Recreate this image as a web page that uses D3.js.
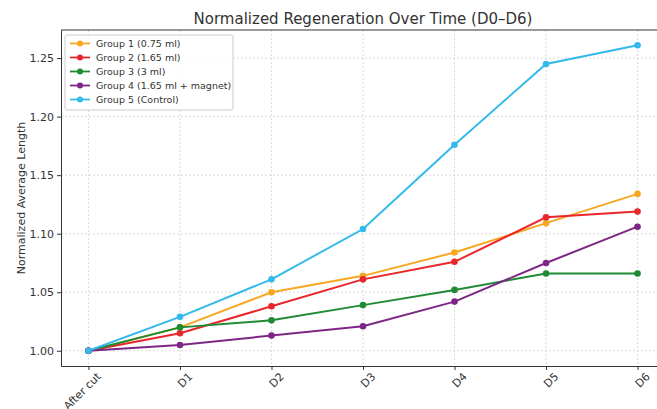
<!DOCTYPE html>
<html>
<head>
<meta charset="utf-8">
<script src="https://cdn.jsdelivr.net/npm/d3@7"></script>
<style>
  body { margin: 0; background: #fff; }
  text { font-family: "DejaVu Sans", sans-serif; fill: #333; }
  .grid line { stroke: #ccc; stroke-dasharray: 2,2; stroke-width: 0.7; }
</style>
</head>
<body>
<svg id="chart" width="657" height="409"></svg>
<script>
const days = ["After cut", "D1", "D2", "D3", "D4", "D5", "D6"];
const yTicks = [1.00, 1.05, 1.10, 1.15, 1.20, 1.25];

const group1 = [1.000, 1.020, 1.050, 1.064, 1.084, 1.109, 1.134];
const group2 = [1.000, 1.015, 1.038, 1.061, 1.076, 1.114, 1.119];
const group3 = [1.000, 1.020, 1.026, 1.039, 1.052, 1.066, 1.066];
const group4 = [1.000, 1.005, 1.013, 1.021, 1.042, 1.075, 1.106];
const group5 = [1.000, 1.029, 1.061, 1.104, 1.176, 1.245, 1.261];

const seriesNames = ["Group 1 (0.75 ml)", "Group 2 (1.65 ml)", "Group 3 (3 ml)",
                     "Group 4 (1.65 ml + magnet)", "Group 5 (Control)"];
const seriesColors = ["#f7a823", "#e8262b", "#1f8a33", "#7d2685", "#33b9ea"];

var series = [group1, group2, group3, group4, group5];

var svg = d3.select('#chart');
// plot box (right edge runs past the window, like the reference crop)
var pLeft = 61, pRight = 665, pTop = 30, pBottom = 366;

// matplotlib style margins around the data
var x = d3.scaleLinear().domain([-0.3, 6.3]).range([pLeft, pRight]);
var y = d3.scaleLinear().domain([0.987, 1.274]).range([pBottom, pTop]);

// gridlines
svg.append('g').attr('class', 'grid')
  .selectAll('line').data(days).enter().append('line')
  .attr('x1', (d, i) => x(i)).attr('x2', (d, i) => x(i))
  .attr('y1', pTop).attr('y2', pBottom);
svg.append('g').attr('class', 'grid')
  .selectAll('line').data(yTicks).enter().append('line')
  .attr('x1', pLeft).attr('x2', pRight)
  .attr('y1', d => y(d)).attr('y2', d => y(d));

// axes
var xAxis = svg.append('g')
  .attr('transform', `translate(0,${pBottom})`)
  .call(d3.axisBottom(x).tickValues(d3.range(days.length))
    .tickFormat(i => days[i]).tickSize(4).tickSizeOuter(0));
xAxis.selectAll('text')
  .attr('font-size', 11).attr('text-anchor', 'end')
  .attr('x', 1).attr('y', 13).attr('dy', '0.35em')
  .attr('transform', 'rotate(-45)')
  .style('font-family', '"DejaVu Sans", sans-serif').attr('fill', '#333');

var yAxis = svg.append('g')
  .attr('transform', `translate(${pLeft},0)`)
  .call(d3.axisLeft(y).tickValues(yTicks).tickFormat(d3.format('.2f'))
    .tickSize(4).tickSizeOuter(0));
yAxis.selectAll('text').attr('font-size', 11)
  .style('font-family', '"DejaVu Sans", sans-serif').attr('fill', '#333');

[xAxis, yAxis].forEach(function(a){
  a.select('.domain').attr('stroke', '#333').attr('stroke-width', 1);
  a.selectAll('.tick line').attr('stroke', '#333');
});
// spine box
svg.append('line').attr('x1', pLeft).attr('x2', pRight)
  .attr('y1', pTop).attr('y2', pTop).attr('stroke', '#333');

// lines and markers
var line = d3.line().x((d, i) => x(i)).y(d => y(d));
series.forEach(function(vals, s){
  svg.append('path').datum(vals)
    .attr('d', line).attr('fill', 'none')
    .attr('stroke', seriesColors[s]).attr('stroke-width', 2);
  svg.append('g').selectAll('circle').data(vals).enter().append('circle')
    .attr('cx', (d, i) => x(i)).attr('cy', d => y(d))
    .attr('r', 3.3).attr('fill', seriesColors[s]);
});

// labels
svg.append('text').attr('x', 363).attr('y', 24)
  .attr('text-anchor', 'middle').attr('font-size', 15)
  .text('Normalized Regeneration Over Time (D0\u2013D6)');
svg.append('text')
  .attr('transform', `translate(25,${(pTop + pBottom) / 2}) rotate(-90)`)
  .attr('text-anchor', 'middle').attr('font-size', 11)
  .text('Normalized Average Length');

// legend
var lg = svg.append('g').attr('transform', 'translate(65,35)');
lg.append('rect').attr('width', 168).attr('height', 75).attr('rx', 2)
  .attr('fill', 'rgba(255,255,255,0.85)').attr('stroke', '#ccc');
seriesNames.forEach(function(name, s){
  var yy = 8.5 + s * 14;
  lg.append('line').attr('x1', 5).attr('x2', 25).attr('y1', yy).attr('y2', yy)
    .attr('stroke', seriesColors[s]).attr('stroke-width', 1.8);
  lg.append('circle').attr('cx', 15).attr('cy', yy).attr('r', 3)
    .attr('fill', seriesColors[s]);
  lg.append('text').attr('x', 31).attr('y', yy + 3.5)
    .attr('font-size', 9.5).text(name);
});
</script>
</body>
</html>
